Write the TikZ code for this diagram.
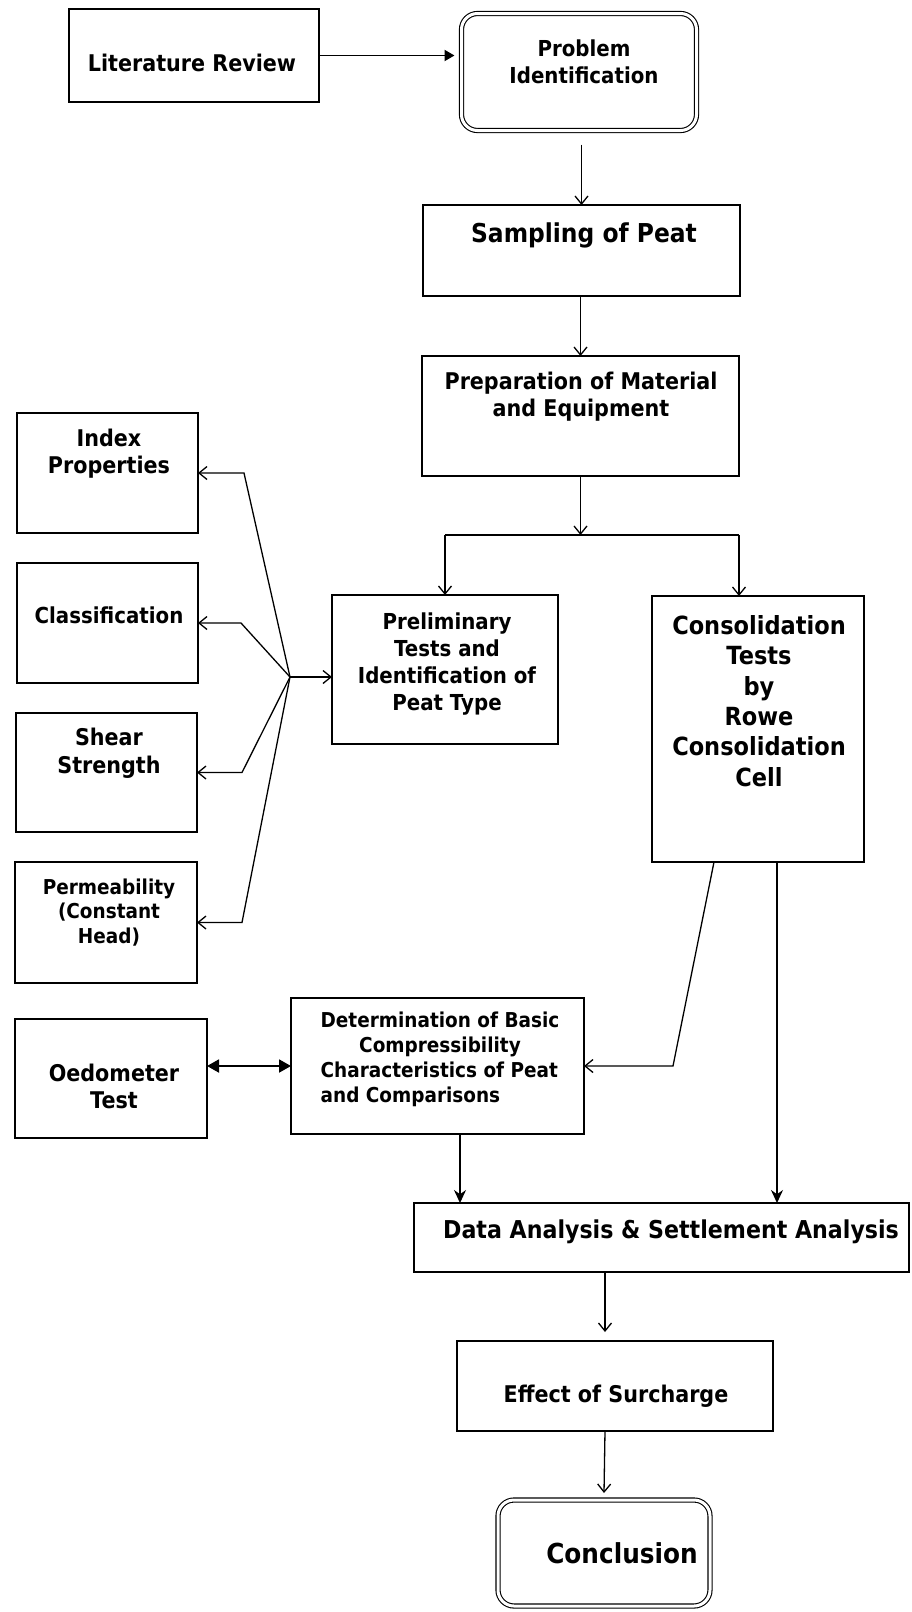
\documentclass[tikz,border=0pt]{standalone}
\usepackage{fontspec}
\setmainfont{DejaVu Sans}[FakeStretch=0.9]
\usetikzlibrary{arrows.meta}
\begin{document}
\begin{tikzpicture}[x=1pt,y=-1pt,
 box/.style={draw, line width=1.6pt, rectangle, inner sep=0pt, outer sep=0pt},
 dbox/.style={draw, line width=1.1pt, double, double distance=3pt, rounded corners=16pt, rectangle, inner sep=0pt, outer sep=0pt},
 txt/.style={align=center, inner sep=0pt, font=\bfseries\fontsize{23}{27}\selectfont},
 con/.style={line width=1.3pt, -{Straight Barb[length=8pt,width=13pt,line width=1.3pt]}},
 fcon/.style={line width=1.5pt, -{Stealth[length=13pt,width=12pt]}},
]
\useasboundingbox (0,0) rectangle (911,1612);
% boxes
\node[box, minimum width=250, minimum height=93] (lit) at (194,55.5) {};
\node[dbox, minimum width=235, minimum height=117] (prob) at (579,72) {};
\node[box, minimum width=317, minimum height=91] (samp) at (581.5,250.5) {};
\node[box, minimum width=317, minimum height=120] (prep) at (580.5,416) {};
\node[box, minimum width=226, minimum height=149] (prelim) at (445,669.5) {};
\node[box, minimum width=212, minimum height=266] (consol) at (758,729) {};
\node[box, minimum width=181, minimum height=120] (index) at (107.5,473) {};
\node[box, minimum width=181, minimum height=120] (class) at (107.5,623) {};
\node[box, minimum width=181, minimum height=119] (shear) at (106.5,772.5) {};
\node[box, minimum width=182, minimum height=121] (perm) at (106,922.5) {};
\node[box, minimum width=192, minimum height=119] (oedo) at (111,1078.5) {};
\node[box, minimum width=293, minimum height=136] (det) at (437.5,1066) {};
\node[box, minimum width=495, minimum height=69] (data) at (661.5,1237.5) {};
\node[box, minimum width=316, minimum height=90] (effect) at (615,1386) {};
\node[dbox, minimum width=212, minimum height=106] (concl) at (604,1553) {};
% texts
\node[txt] (tlit) at (192,63) {Literature Review};
\node[txt, font=\bfseries\fontsize{22}{27}\selectfont] (tprob) at (584,61.5) {Problem\\Identification};
\node[txt, font=\bfseries\fontsize{26}{30}\selectfont] (tsamp) at (584,235) {Sampling of Peat};
\node[txt] (tprep) at (581,396.5) {Preparation of Material\\and Equipment};
\node[txt] (tindex) at (109,453.5) {Index\\Properties};
\node[txt, font=\bfseries\fontsize{22}{27}\selectfont] (tclass) at (109,615) {Classification};
\node[txt, font=\bfseries\fontsize{22}{27.3}\selectfont] (tprelim) at (447,664) {Preliminary\\Tests and\\Identification of\\Peat Type};
\node[txt, font=\bfseries\fontsize{25}{30.4}\selectfont] (tconsol) at (759,701) {Consolidation\\Tests\\by\\Rowe\\Consolidation\\Cell};
\node[txt, font=\bfseries\fontsize{23}{28}\selectfont] (tshear) at (109,753) {Shear\\Strength};
\node[txt, font=\bfseries\fontsize{20.5}{24.5}\selectfont] (tperm) at (109,912.5) {Permeability\\(Constant\\Head)};
\node[txt] (toedo) at (114,1086.5) {Oedometer\\Test};
\node[txt, font=\bfseries\fontsize{20.5}{24.7}\selectfont] (tdet) at (440,1060) {\begin{tabular}{@{}l@{}}Determination of Basic\\\multicolumn{1}{@{}c@{}}{Compressibility}\\Characteristics of Peat\\and Comparisons\end{tabular}};
\node[txt, font=\bfseries\fontsize{24.6}{30}\selectfont] (tdata) at (671,1232) {Data Analysis \& Settlement Analysis};
\node[txt] (teffect) at (616,1396) {Effect of Surcharge};
\node[txt, font=\bfseries\fontsize{27.5}{32}\selectfont] (tconcl) at (622,1553) {Conclusion};
% connectors
\draw[line width=1.9pt, -{Triangle[length=10pt,width=11pt]}] (lit.east) -- ([xshift=-7pt]prob.west |- lit.east);
\draw[con] ([yshift=-14pt]samp.north |- prob.south) -- (samp.north);
\draw[con] (samp.south -| prep.north) -- (prep.north);
\coordinate (B) at ([yshift=-59pt]prep.south);
\draw[con] (prep.south) -- (B);
\draw[line width=1.3pt] (prelim.north |- B) -- ([xshift=-19pt]consol.north |- B);
\draw[con] (prelim.north |- B) -- (prelim.north);
\draw[con] ([xshift=-19pt]consol.north |- B) -- ([xshift=-19pt]consol.north);
\coordinate (F) at (290,677);
\draw[con] (F) -- (F -| prelim.west);
\draw[con] (F) -- ([xshift=46pt]index.east) -- (index.east);
\draw[con] (F) -- ([xshift=43pt]class.east) -- (class.east);
\draw[con] (F) -- ([xshift=45pt]shear.east) -- (shear.east);
\draw[con] (F) -- ([xshift=45pt]perm.east) -- (perm.east);
\draw[con] ([xshift=-44pt]consol.south) -- ([xshift=89pt]det.east) -- (det.east);
\draw[line width=1.9pt, {Triangle[length=12pt,width=13pt]}-{Triangle[length=12pt,width=13pt]}] (oedo.east |- det.west) -- (det.west);
\draw[fcon] ([xshift=22.5pt]det.south) -- ([xshift=22.5pt]det.south |- data.north);
\draw[fcon] ([xshift=19pt]consol.south) -- ([xshift=19pt]consol.south |- data.north);
\draw[con] ([xshift=-10pt]effect.north |- data.south) -- ([yshift=9pt,xshift=-10pt]effect.north);
\draw[con] ([xshift=-10pt]effect.south) -- ([yshift=7pt]concl.north);
\end{tikzpicture}
\end{document}
